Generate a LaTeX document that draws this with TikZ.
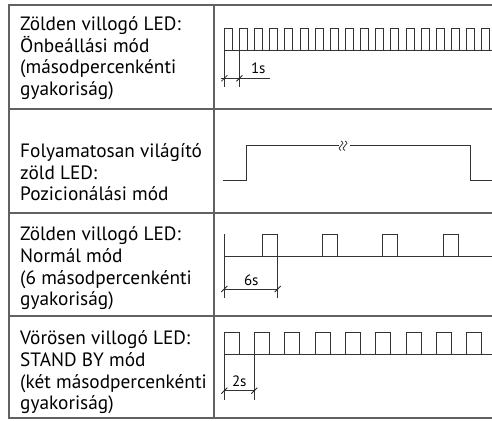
\documentclass[tikz,border=0pt]{standalone}
\usepackage{fontspec}
\setmainfont{PT Sans}
\begin{document}
\begin{tikzpicture}[x=1pt,y=-1pt,
  grid/.style={draw=black!62,line width=1.3pt},
  sig/.style={draw=black!80,line width=0.9pt},
  dim/.style={draw=black!80,line width=0.7pt},
  tick/.style={draw=black!85,line width=0.8pt},
  cell/.style={anchor=north west,inner sep=0pt,align=left,font=\fontsize{19.3}{21.7}\selectfont},
  lab/.style={inner sep=0pt,font=\fontsize{15}{16}\selectfont}]
\useasboundingbox (0,0) rectangle (492,420);
% table
\draw[grid] (492,5) -- (9,5) -- (9,418) -- (492,418);
\draw[grid] (214,5) -- (214,418);
\foreach \y in {109,213,316} \draw[grid] (9,\y) -- (492,\y);
% texts
\node[cell] (t1) at (20,16.5) {Zölden villogó LED:\\Önbeállási mód\\(másodpercenkénti\\gyakoriság)};
\node[cell] (t2) at (20,143.5) {Folyamatosan világító\\zöld LED:\\Pozicionálási mód};
\node[cell] (t3) at (20,226.5) {Zölden villogó LED:\\Normál mód\\(6 másodpercenkénti\\gyakoriság)};
\node[cell] (t4) at (20,330.5) {Vörösen villogó LED:\\STAND BY mód\\(két másodpercenkénti\\gyakoriság)};
% row 1 signal
\draw[sig] (224.3,50.7) -- (492,50.7);
\foreach \k in {0,...,17} {
  \pgfmathsetmacro{\xa}{224.3+15.14*\k}
  \pgfmathsetmacro{\xb}{\xa+8}
  \draw[sig] (\xa,50.7) -- (\xa,28.3) -- (\xb,28.3) -- (\xb,50.7);
}
\draw[dim] (224.3,50.7) -- (224.3,87.3);
\draw[dim] (239.4,50.7) -- (239.4,87.3);
\draw[dim] (220.7,78.3) -- (270,78.3);
\draw[tick] (221.3,81.3) -- (227.3,75.3);
\draw[tick] (236.4,81.3) -- (242.4,75.3);
\node[lab] (l1) at (258.3,68.7) {1s};
% row 2 signal
\draw[sig] (222.7,180.7) -- (246,180.7) -- (246,145.7) -- (338.5,145.7);
\draw[sig] (349.5,145.7) -- (470,145.7) -- (470,180.7) -- (492,180.7);
\draw[sig,line width=0.8pt] (341,150.5) .. controls (338,148.5) and (339,147.5) .. (341,145.7) .. controls (343,143.9) and (344,142.9) .. (341,140.9);
\draw[sig,line width=0.8pt] (345,150.5) .. controls (342,148.5) and (343,147.5) .. (345,145.7) .. controls (347,143.9) and (348,142.9) .. (345,140.9);
% row 3 signal
\draw[sig] (224.3,234) -- (224.3,256.7) -- (492,256.7);
\foreach \xa in {262.7,322.7,382.9,443.3} {
  \pgfmathsetmacro{\xb}{\xa+15}
  \draw[sig] (\xa,256.7) -- (\xa,234) -- (\xb,234) -- (\xb,256.7);
}
\draw[dim] (224.3,256.7) -- (224.3,298.3);
\draw[dim] (277.7,256.7) -- (277.7,298.3);
\draw[dim] (224.3,289) -- (277.7,289);
\draw[tick] (221.3,292) -- (227.3,286);
\draw[tick] (274.7,292) -- (280.7,286);
\node[lab] (l3) at (251.3,280) {6s};
% row 4 signal
\draw[sig] (224.3,354.3) -- (492,354.3);
\foreach \k in {0,...,8} {
  \pgfmathsetmacro{\xa}{224.3+30.3*\k}
  \pgfmathsetmacro{\xb}{\xa+15}
  \draw[sig] (\xa,354.3) -- (\xa,332.3) -- (\xb,332.3) -- (\xb,354.3);
}
\draw[dim] (224.3,354.3) -- (224.3,400);
\draw[dim] (254.3,354.3) -- (254.3,400);
\draw[dim] (224.3,390.7) -- (254.3,390.7);
\draw[tick] (221.3,393.7) -- (227.3,387.7);
\draw[tick] (251.3,393.7) -- (257.3,387.7);
\node[lab] (l4) at (239.3,381) {2s};
\end{tikzpicture}
\end{document}
